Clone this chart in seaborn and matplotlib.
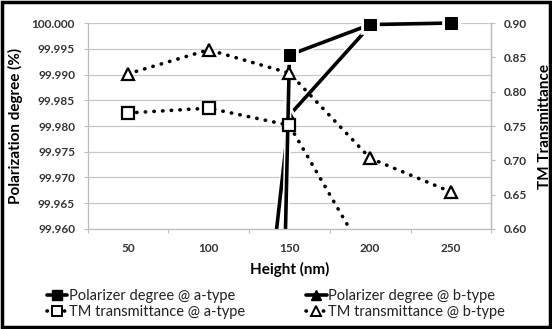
import numpy as np
import pandas as pd
import matplotlib
matplotlib.use("Agg")
import matplotlib.pyplot as plt
import matplotlib.patheffects as pe
from matplotlib.lines import Line2D
from matplotlib.transforms import Bbox, TransformedBbox
from matplotlib.ticker import FormatStrFormatter, MultipleLocator, FixedLocator
import seaborn as sns

heights = ["50", "100", "150", "200", "250"]
pol_a = [98.50, 99.30, 99.9938, 99.9997, 100.000]
pol_b = [99.60, 99.843, 99.9821, 99.9995, 100.000]
tm_a = [0.769, 0.776, 0.751, 0.549, 0.450]
tm_b = [0.826, 0.861, 0.827, 0.703, 0.654]
labels = ["Polarizer degree @ a-type", "Polarizer degree @ b-type",
          "TM transmittance @ a-type", "TM transmittance @ b-type"]

sns.set_theme(style="white")
plt.rcParams['font.family'] = ['Lato', 'DejaVu Sans']

pos = np.arange(len(heights))
df = pd.DataFrame({"pos": pos, "pol_a": pol_a, "pol_b": pol_b, "tm_a": tm_a, "tm_b": tm_b})

fig = plt.figure(figsize=(5.52, 3.29), dpi=100)
ax = fig.add_axes([0.1587, 0.304, 0.7313, 0.626])
ax2 = ax.twinx()

outline = [pe.Stroke(linewidth=4.8, foreground='white'), pe.Normal()]
dot = (0, (0.1, 2.3))

sns.lineplot(data=df, x="pos", y="pol_b", ax=ax, color='black', lw=2.6,
             marker='^', markersize=8, markeredgecolor='black', legend=False)
sns.lineplot(data=df, x="pos", y="pol_a", ax=ax, color='black', lw=2.6,
             marker='s', markersize=8.5, markeredgecolor='black', legend=False)
for ln in ax.lines:
    ln.set_path_effects(outline)

sns.lineplot(data=df, x="pos", y="tm_a", ax=ax2, color='black', lw=2.6,
             marker='s', markersize=8.5, markerfacecolor='white', markeredgecolor='black',
             markeredgewidth=1.6, legend=False)
sns.lineplot(data=df, x="pos", y="tm_b", ax=ax2, color='black', lw=2.6,
             marker='^', markersize=9, markerfacecolor='white', markeredgecolor='black',
             markeredgewidth=1.6, legend=False)
for ln in ax2.lines:
    ln.set_linestyle(dot)
    ln.set_dash_capstyle('round')

# allow markers to extend slightly above the plot top (as in the reference)
clip = TransformedBbox(Bbox([[0, 0], [1, 1.08]]), ax.transAxes)
for ln in ax.lines + ax2.lines:
    ln.set_clip_box(clip)

ax.set_xlim(-0.5, len(heights) - 0.5)
ax.set_ylim(99.960, 100.000)
ax2.set_ylim(0.60, 0.90)
ax.yaxis.set_major_locator(MultipleLocator(0.005))
ax.yaxis.set_major_formatter(FormatStrFormatter('%.3f'))
ax2.yaxis.set_major_locator(MultipleLocator(0.05))
ax2.yaxis.set_major_formatter(FormatStrFormatter('%.2f'))
ax.set_xticks(pos)
ax.set_xticklabels(heights)
ax.xaxis.set_minor_locator(FixedLocator(np.arange(-0.5, len(heights), 1.0)))

ax.grid(axis='y', color='#c8c8c8', lw=0.9)
ax.set_axisbelow(True)
for a in (ax, ax2):
    a.spines['top'].set_visible(False)
    for s in ['left', 'right', 'bottom']:
        a.spines[s].set_color('#bdbdbd')
        a.spines[s].set_linewidth(0.9)
ax2.spines['left'].set_visible(False)
ax2.spines['bottom'].set_visible(False)

ax.tick_params(axis='y', which='major', length=3, color='#bdbdbd', width=0.8, pad=6, left=True)
ax2.tick_params(axis='y', which='major', length=3, color='#bdbdbd', width=0.8, pad=6, right=True)
ax.tick_params(axis='x', which='major', length=0, pad=10)
ax.tick_params(axis='x', which='minor', length=3, color='#bdbdbd', width=0.8, bottom=True)
for lab in ax.get_yticklabels() + ax2.get_yticklabels() + ax.get_xticklabels():
    lab.set_fontsize(8.5)
    lab.set_fontweight('bold')
    lab.set_color('#333333')

ax.set_xlabel("Height (nm)", fontsize=11, fontweight='bold', color='black', labelpad=6)
ax.set_ylabel("Polarization degree (%)", fontsize=11, fontweight='bold', color='black', labelpad=6)
ax2.set_ylabel("TM Transmittance", fontsize=11, fontweight='bold', color='black', labelpad=8)

handles = [
    Line2D([], [], color='black', lw=2.6, marker='s', markersize=7),
    Line2D([], [], color='black', lw=2.6, linestyle=dot, dash_capstyle='round', marker='s',
           markersize=7, markerfacecolor='white', markeredgewidth=1.4),
    Line2D([], [], color='black', lw=2.6, marker='^', markersize=7),
    Line2D([], [], color='black', lw=2.6, linestyle=dot, dash_capstyle='round', marker='^',
           markersize=7, markerfacecolor='white', markeredgewidth=1.4),
]
order = [labels[0], labels[2], labels[1], labels[3]]
leg = fig.legend(handles, order, ncol=2, loc='lower center',
                 bbox_to_anchor=(0.5, 0.0), frameon=False, fontsize=10.5,
                 handlelength=1.4, handletextpad=0.1, columnspacing=4.2,
                 labelspacing=0.15, borderaxespad=0.3)
for t in leg.get_texts():
    t.set_color('#222222')

fig.patches.append(plt.Rectangle((0.004, 0.006), 0.992, 0.988, transform=fig.transFigure,
                                 fill=False, edgecolor='black', lw=2.5))
fig.savefig("out.png", dpi=100)
